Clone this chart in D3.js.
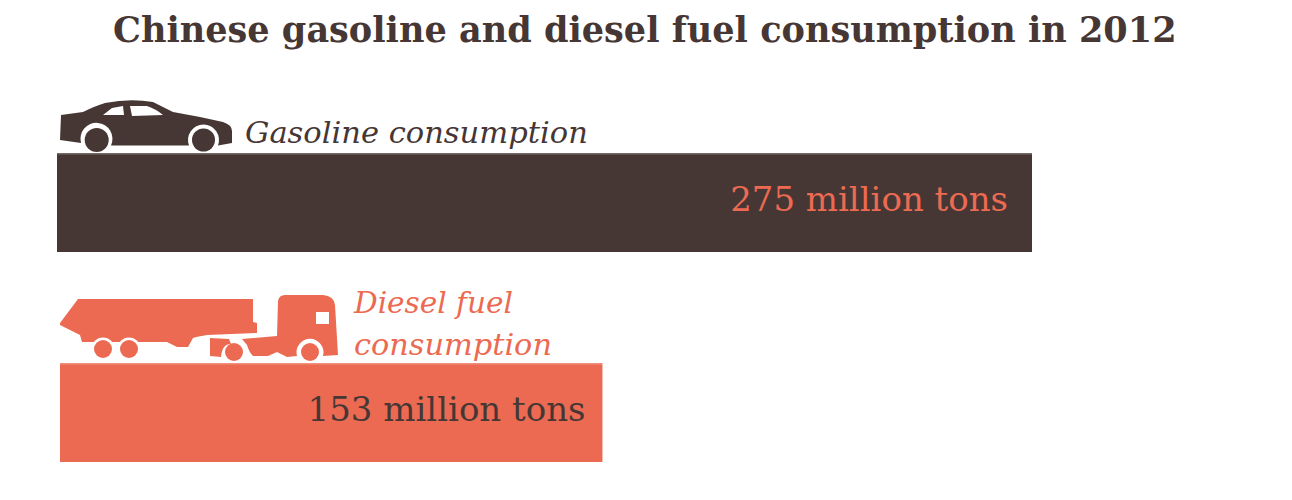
<!DOCTYPE html>
<html><head><meta charset="utf-8">
<script src="https://cdn.jsdelivr.net/npm/d3@7"></script>
<style>html,body{margin:0;padding:0;background:#fff}svg{display:block}text{font-family:"DejaVu Serif",serif}</style>
</head><body><svg id="c" width="1292" height="500"></svg>
<script>
const titleText = "Chinese gasoline and diesel fuel consumption in 2012";
const categories = ["Gasoline consumption", "Diesel fuel consumption"];
const categoryLines = [["Gasoline consumption"], ["Diesel fuel", "consumption"]];
const values = [275, 153];
const unit = "million tons";
const dark = "#463735", coral = "#EC6A52";

const svg = d3.select("#c");
const x = d3.scaleLinear().domain([0, 275]).range([0, 975]);
const y = d3.scalePoint().domain(categories).range([153, 363]);
const barH = 99;
const barX = [57, 60];
const fills = [dark, coral], inks = [coral, dark];
const labelSpec = [
  {x: 245, ys: [143], w: [343]},
  {x: 354, ys: [313, 355], w: [159, 198]}
];
const valueRightPad = [24, 17];

// sets the font size that makes a text as wide as in the reference
function fit(sel, w){
  const size = +sel.attr("font-size");
  sel.attr("font-size", size * w / sel.node().getComputedTextLength());
}

fit(svg.append("text").attr("x",113).attr("y",42)
  .attr("font-size",32).attr("font-weight",700).attr("fill",dark).text(titleText), 1064);

svg.selectAll("rect.bar").data(values).join("rect").attr("class","bar")
  .attr("x",(d,i)=>barX[i]).attr("y",(d,i)=>y(categories[i]))
  .attr("width",d=>x(d)).attr("height",barH).attr("fill",(d,i)=>fills[i]);
svg.selectAll("rect.edge").data(values).join("rect").attr("class","edge")
  .attr("x",(d,i)=>barX[i]).attr("y",(d,i)=>y(categories[i]))
  .attr("width",d=>x(d)).attr("height",1.5).attr("fill","#fff").attr("opacity",.25);

values.forEach((v,i)=>{
  const t = svg.append("text")
    .attr("x",barX[i]+x(v)-valueRightPad[i]).attr("y",y(categories[i])+58)
    .attr("text-anchor","end").attr("font-size",32).attr("fill",inks[i])
    .text(v+" "+unit);
  fit(t, 278);
  categoryLines[i].forEach((l,j)=>{
    fit(svg.append("text").attr("x",labelSpec[i].x).attr("y",labelSpec[i].ys[j])
      .attr("font-size",30).attr("font-style","italic").attr("fill",fills[i]).text(l), labelSpec[i].w[j]);
  });
});

// car icon
const car = "M61,115 L83,112 Q95,106 105,103 Q130,98 153,102 L173,112 L200,117 L223,122 Q232,125 232,131 L232,143 L218,145.5 A15.5,15.5 0 1 0 189,145.5 L111,145.5 A16,16 0 1 0 81,143 L60,140 Z";
svg.append("path").attr("d",car).attr("fill",dark);
[[96.7,140,12],[203.5,140,11.5]].forEach(c=>svg.append("circle").attr("cx",c[0]).attr("cy",c[1]).attr("r",c[2]).attr("fill",dark));
["M103,115 L112,108 L123,106 L124,115 Z","M130,106 L147,106 Q156,109 163,115 L132,116 Z"]
  .forEach(d=>svg.append("path").attr("d",d).attr("fill","#fff"));

// truck icon
const trailer = "M78,299 L253,299 L253,322 L257,323 L257,333 L207,335 Q195,337 193,338 L188,347 L177,347 L167,342 L140,342 L82,342 L80,335 L60,325 L60,323 Z";
const cab = "M278,301 Q279,295 285,295 L323,295 Q334,296 335,305 L338,355 L323,356 A13.5,13.5 0 1 0 297,356 L287,357 L277,352 L268,356 L253,356 Q249,352 247,345 L242,339 L277,336 Z";
const fender = "M210,338 L229,339 L231,344 Q222,344 221,357 L210,356 Z";
[trailer,cab,fender].forEach(d=>svg.append("path").attr("d",d).attr("fill",coral));
[[103,349,9],[129,349,9]].forEach(c=>{
  svg.append("circle").attr("cx",c[0]).attr("cy",c[1]).attr("r",c[2]+2.5).attr("fill","#fff");
});
[[103,349,9],[129,349,9],[234,352,9],[310,352,9]].forEach(c=>svg.append("circle").attr("cx",c[0]).attr("cy",c[1]).attr("r",c[2]).attr("fill",coral));
svg.append("path").attr("d","M316,312 H329 V324 H316 Z").attr("fill","#fff");
</script></body></html>
